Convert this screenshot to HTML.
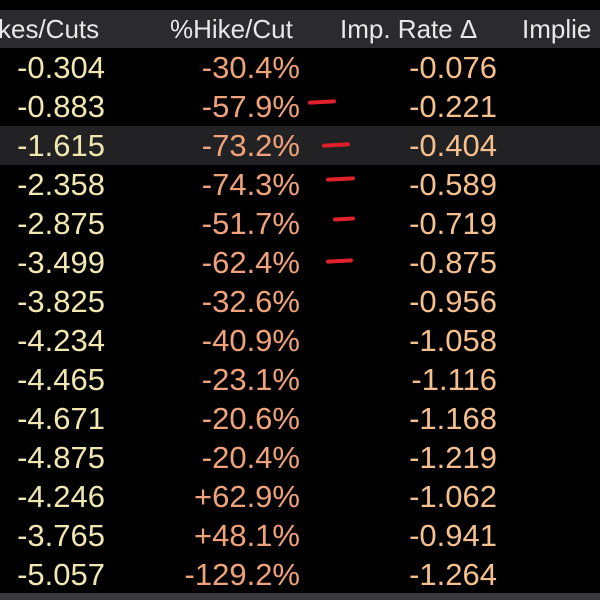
<!DOCTYPE html>
<html><head><meta charset="utf-8">
<style>
html,body{margin:0;padding:0;background:#000;}
#wrap{position:relative;width:600px;height:600px;overflow:hidden;background:#000;font-family:"Liberation Sans","DejaVu Sans",sans-serif;}
.hdr{position:absolute;left:0;top:10px;width:600px;height:38px;background:#2b2b2d;}
.ht{position:absolute;top:12px;font-size:26px;color:#e8e8e8;white-space:nowrap;line-height:34px;}
.hl{position:absolute;left:0;width:600px;height:39px;background:#222224;}
.c{position:absolute;font-size:31px;line-height:36px;white-space:nowrap;text-align:right;}
.dash{position:absolute;height:4px;background:#e0202a;border-radius:2px;transform:rotate(-3deg);}
.bot{position:absolute;left:0;top:593px;width:600px;height:7px;background:#3a3a3c;}
</style></head>
<body>
<div id="wrap">
<div class="hdr"></div>
<div class="ht" style="left:-2px">kes/Cuts</div>
<div class="ht" style="left:170px">%Hike/Cut</div>
<div class="ht" style="left:340px">Imp. Rate Δ</div>
<div class="ht" style="left:522px">Implie</div>
<div class="hl" style="top:126px"></div>
<div class="bot"></div>
</div>
<script>
const hikesCuts=["-0.304","-0.883","-1.615","-2.358","-2.875","-3.499","-3.825","-4.234","-4.465","-4.671","-4.875","-4.246","-3.765","-5.057"];
const pctHikeCut=["-30.4%","-57.9%","-73.2%","-74.3%","-51.7%","-62.4%","-32.6%","-40.9%","-23.1%","-20.6%","-20.4%","+62.9%","+48.1%","-129.2%"];
const impRateDelta=["-0.076","-0.221","-0.404","-0.589","-0.719","-0.875","-0.956","-1.058","-1.116","-1.168","-1.219","-1.062","-0.941","-1.264"];
const dashRows=[1,2,3,4,5];
const wrap=document.getElementById('wrap');
function rowY(i){return 68+i*39.03;}
function cell(txt,right,color,name){
  const d=document.createElement('div');
  d.className='c';
  d.textContent=txt;
  d.style.right=(600-right)+'px';
  d.style.color=color;
  
  
  return d;
}
hikesCuts.forEach((v,i)=>{
  const y=rowY(i)-18;
  const a=cell(v,105,'#f1e7b0','hikes-cuts-cell');a.style.top=y+'px';wrap.appendChild(a);
  const b=cell(pctHikeCut[i],300,'#f0a27a','pct-hike-cut-cell');b.style.top=y+'px';wrap.appendChild(b);
  const c=cell(impRateDelta[i],497,'#f5c08e','imp-rate-delta-cell');c.style.top=y+'px';wrap.appendChild(c);
});
const dashX=[308,322,326,333,326];
const dashW=[28,28,29,22,27];
const dashDy=[-7,-3,-8,-7,-4];
dashRows.forEach((r,k)=>{
  const d=document.createElement('div');
  d.className='dash';
  d.style.left=dashX[k]+'px';
  d.style.width=dashW[k]+'px';
  d.style.top=(rowY(r)+dashDy[k])+'px';
  
  
  wrap.appendChild(d);
});
</script>
</body></html>
